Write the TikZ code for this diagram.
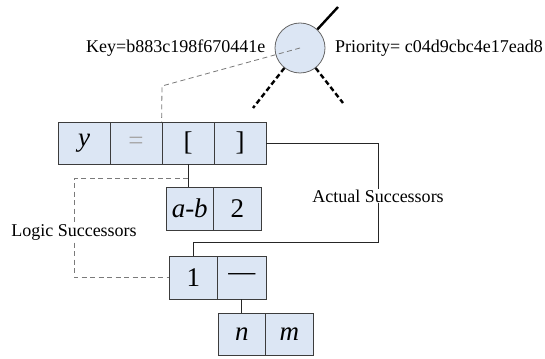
\documentclass[tikz,border=0pt]{standalone}
\usepackage{fontspec}
\setmainfont{Liberation Serif}
\definecolor{cellfill}{HTML}{DCE6F4}
\definecolor{edge}{HTML}{3C3C3C}
\definecolor{dashgray}{HTML}{7A7A7A}
\begin{document}
\begin{tikzpicture}[x=1pt,y=-1pt,
  cell/.style={draw=edge, line width=0.8pt, fill=cellfill, inner sep=0pt,
    minimum height=42pt, font=\fontsize{27}{30}\selectfont},
  wcell/.style={cell, minimum width=52pt},
  ncell/.style={cell, minimum width=47.5pt},
  lab/.style={font=\fontsize{18}{20}\selectfont, inner sep=1pt},
  conn/.style={draw=black!85, line width=0.8pt},
  logic/.style={draw=dashgray, line width=0.8pt, dash pattern=on 5pt off 3.5pt},
  thick dash/.style={draw=black, line width=2.4pt, dash pattern=on 5pt off 3pt}]
\useasboundingbox (0,0) rectangle (545,358);
\fill[white] (0,0) rectangle (545,358);

% circle node
\node[circle, draw=black!60, line width=0.8pt, fill=cellfill, minimum size=50pt, inner sep=0pt] (c) at (300,48) {};
\coordinate (up) at (338,7);
\coordinate (dl) at (253,108);
\coordinate (dr) at (343,103);
\draw[black, line width=2.4pt] (c.47) -- (up);
\draw[thick dash] (c.232) -- (dl);
\draw[thick dash] (c.308) -- (dr);

\node[lab, anchor=west] (key) at (85,48) {Key=b883c198f670441e};
\node[lab, anchor=west] (prio) at (334,48) {Priority= c04d9cbc4e17ead8};

% top row
\node[wcell] (t1) at (84,143) {\textit{y}};
\node[wcell] (t2) at (136,143) {\textcolor{black!35}{=}};
\node[wcell] (t3) at (188,143) {[};
\node[wcell] (t4) at (240,143) {]};

% second box
\node[ncell, minimum height=43pt] (b2a) at (189.75,208.5) {\textit{a}-\textit{b}};
\node[ncell, minimum height=43pt] (b2b) at (237.25,208.5) {2};

% third box
\node[cell, minimum width=48.5pt, minimum height=43pt] (b3a) at (193.25,277.5) {1};
\node[cell, minimum width=48.5pt, minimum height=43pt] (b3b) at (241.75,277.5) {---};

% fourth box
\node[ncell] (b4a) at (241.75,334) {\textit{n}};
\node[ncell] (b4b) at (289.25,334) {\textit{m}};

% key dashed line
\coordinate (kc) at (162,86);
\draw[logic] (c.center) -- (kc) -- (t3.north west);

% connectors
\draw[conn] (t3.south) -- (t3.south |- b2a.north);
\coordinate (ls) at (188,178);
\coordinate (lc1) at (74,178);
\coordinate (lc2) at (74,277.5);
\draw[logic] (ls) -- (lc1) -- (lc2) -- (b3a.west);

\coordinate (ar) at (378,242);
\draw[conn] (t4.east) -| (ar) -| (b3a.north);

\draw[conn] (b3b.south) -- (b3b.south |- b4a.north);

% labels
\node[lab, fill=white] (act) at (378,196) {Actual Successors};
\node[lab, fill=white] (log) at (74,232) {Logic Successors};
\end{tikzpicture}
\end{document}
